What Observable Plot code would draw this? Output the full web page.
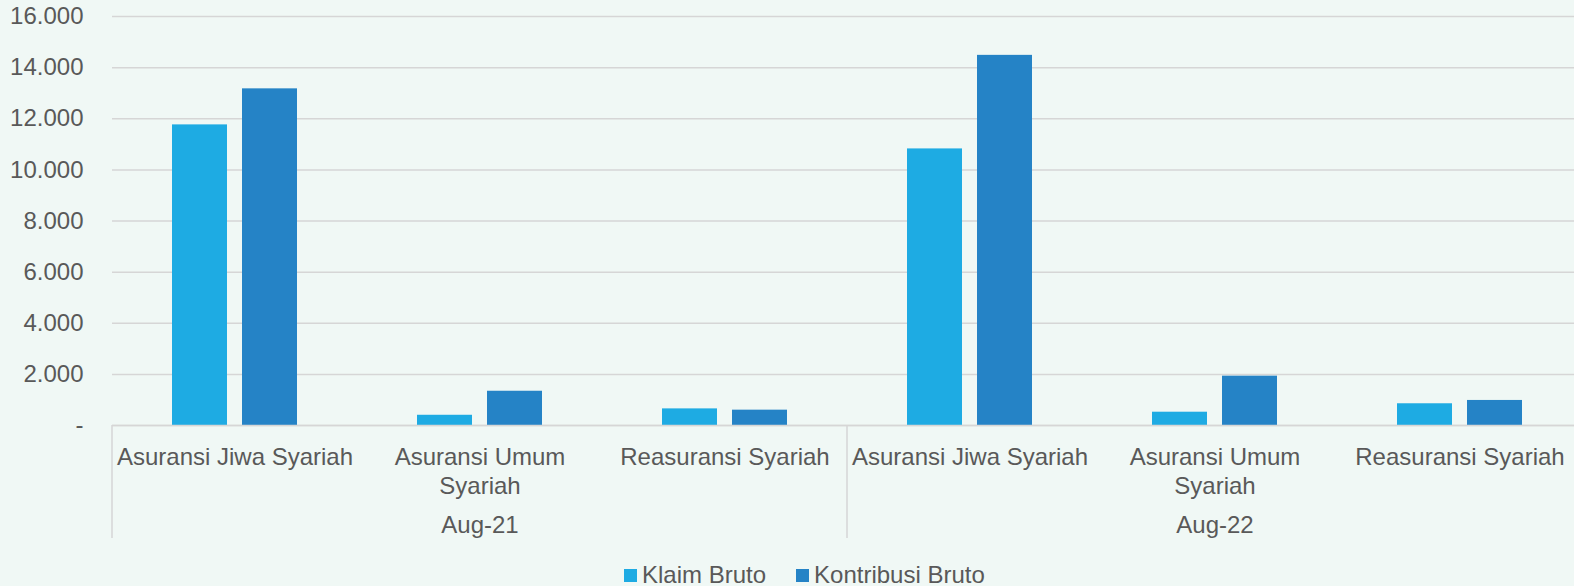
<!DOCTYPE html>
<html>
<head>
<meta charset="utf-8">
<script src="https://cdn.jsdelivr.net/npm/d3@7"></script>
<script src="https://cdn.jsdelivr.net/npm/@observablehq/plot@0.6"></script>
<style>
  html, body { margin: 0; padding: 0; background: #f0f8f5; overflow: hidden; width: 1574px; height: 586px; }
  #chart { width: 1582px; }
  #chart svg { display: block; max-width: none !important; }
  #legend { display: flex; align-items: center; padding-left: 624px; padding-top: 8px; height: 30px; font-family: "Liberation Sans", Arial, sans-serif; font-size: 24px; color: #595959; }
  #legend .item { display: flex; align-items: center; margin-right: 30px; }
  #legend .sw { width: 13px; height: 13px; margin-right: 5px; }
</style>
</head>
<body>
<div id="chart"></div>
<div id="legend"></div>
<script>
const periods = ["Aug-21", "Aug-22"];
const categories = ["Asuransi Jiwa Syariah", "Asuransi Umum Syariah", "Reasuransi Syariah"];
const categoryLabels = ["Asuransi Jiwa Syariah", "Asuransi Umum\nSyariah", "Reasuransi Syariah"];
const series = ["Klaim Bruto", "Kontribusi Bruto"];
const seriesColors = ["#1eabe3", "#2583c6"];
// values in order: Aug-21 (3 categories), Aug-22 (3 categories)
const klaimBruto = [11760, 400, 650, 10820, 520, 850];
const kontribusiBruto = [13170, 1340, 600, 14480, 1930, 980];
const yTicks = [0, 2000, 4000, 6000, 8000, 10000, 12000, 14000, 16000];

const keys = [];
const labelOf = {};
periods.forEach(p => categories.forEach((c, i) => {
  const k = p + "|" + c;
  keys.push(k);
  labelOf[k] = categoryLabels[i];
}));
const data = [];
keys.forEach((k, i) => {
  data.push({key: k, series: series[0], value: klaimBruto[i]});
  data.push({key: k, series: series[1], value: kontribusiBruto[i]});
});
const fmt = d => d === 0 ? "-" : d3.format(",")(d).replace(/,/g, ".");
const textColor = "#595959";
const gridColor = "#d6d6d6";

const plot = Plot.plot({
  width: 1582,
  height: 552,
  marginLeft: 112,
  marginRight: 0,
  marginTop: 16,
  marginBottom: 127,
  style: {background: "transparent", fontFamily: "'Liberation Sans', Arial, sans-serif", fontSize: "24px", color: textColor, overflow: "visible", maxWidth: "none"},
  fx: {domain: keys, padding: 0, label: null},
  x: {domain: series, paddingInner: 0.2143, paddingOuter: 0.857, axis: null},
  y: {domain: [0, 16000], label: null, axis: null},
  color: {domain: series, range: seriesColors},
  marks: [
    Plot.gridY(yTicks, {stroke: gridColor, strokeOpacity: 1, strokeWidth: 1.5}),
    Plot.axisY(yTicks, {tickSize: 0, tickPadding: 29, tickFormat: fmt, fontSize: 24, fill: textColor, label: null}),
    Plot.axisFx({anchor: "bottom", tickSize: 0, tickPadding: 19, tickFormat: k => labelOf[k], fontSize: 24, lineHeight: 1.2, fill: textColor, label: null}),
    Plot.barY(data, {fx: "key", x: "series", y: "value", fill: "series"}),
    Plot.ruleY([0], {stroke: gridColor, strokeWidth: 1.5}),
    Plot.text(periods, {fx: d => d + "|" + categories[1], text: d => d, frameAnchor: "bottom", lineAnchor: "middle", dy: 100, fontSize: 24, fill: textColor})
  ]
});
document.getElementById("chart").appendChild(plot);

// group separators at the edges of each period group, positioned with Plot's scales
const fxScale = plot.scale("fx");
const yScale = plot.scale("y");
const y0 = yScale.apply(0);
const svg = d3.select(plot);
const sepKeys = [keys[0], keys[3]];
sepKeys.forEach(k => {
  const x = fxScale.apply(k);
  svg.append("line")
    .attr("x1", x).attr("x2", x)
    .attr("y1", y0).attr("y2", y0 + 113)
    .attr("stroke", gridColor).attr("stroke-width", 1.5);
});

const legend = document.getElementById("legend");
series.forEach((s, i) => {
  const item = document.createElement("div");
  item.className = "item";
  const sw = document.createElement("div");
  sw.className = "sw";
  sw.style.background = seriesColors[i];
  const t = document.createElement("span");
  t.textContent = s;
  item.appendChild(sw);
  item.appendChild(t);
  legend.appendChild(item);
});
</script>
</body>
</html>
